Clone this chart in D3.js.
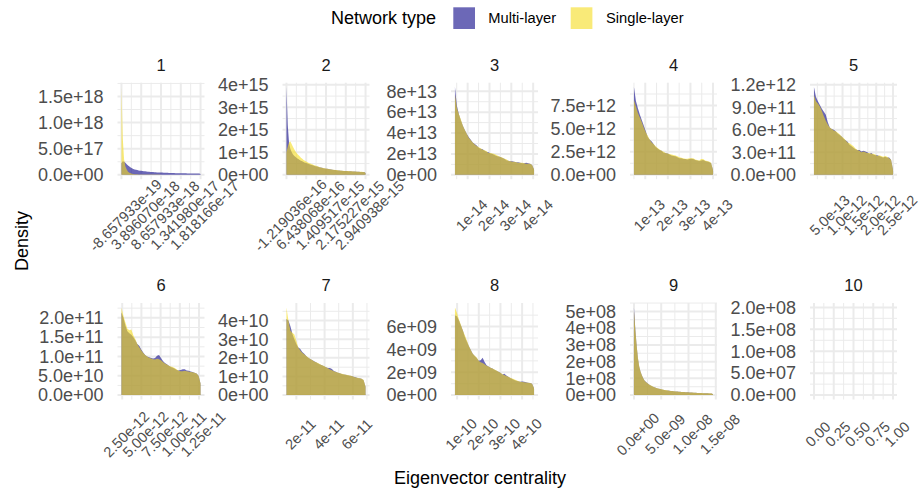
<!DOCTYPE html>
<html>
<head>
<meta charset="utf-8">
<script src="https://cdn.jsdelivr.net/npm/d3@7"></script>
<style>
body { margin: 0; background: #fff; }
text { font-family: "Liberation Sans", Arial, sans-serif; }
</style>
</head>
<body>
<svg id="chart" width="921" height="492"></svg>
<script>
// facet names
var panelNames = ["1", "2", "3", "4", "5", "6", "7", "8", "9", "10"];

// x data range of every facet (before the 5% padding)
var xDomains = [
    [-8.657933e-19, 1.818166e-17],
    [-1.219036e-16, 2.940938e-15],
    [0.42e-14, 4.04e-14],
    [0.5e-13, 4.0e-13],
    [0.15e-12, 2.5e-12],
    [2.4e-12, 1.27e-11],
    [1.3e-11, 6.9e-11],
    [0.9e-10, 4.55e-10],
    [0, 1.45e-8],
    [0, 1]
];
var xTicks = [
    [-8.657933e-19, 3.896070e-18, 8.657933e-18, 1.341980e-17, 1.818166e-17],
    [-1.219036e-16, 6.438068e-16, 1.409517e-15, 2.175227e-15, 2.940938e-15],
    [1e-14, 2e-14, 3e-14, 4e-14],
    [1e-13, 2e-13, 3e-13, 4e-13],
    [5e-13, 1e-12, 1.5e-12, 2e-12, 2.5e-12],
    [2.5e-12, 5e-12, 7.5e-12, 1e-11, 1.25e-11],
    [2e-11, 4e-11, 6e-11],
    [1e-10, 2e-10, 3e-10, 4e-10],
    [0, 5e-9, 1e-8, 1.5e-8],
    [0, 0.25, 0.5, 0.75, 1]
];
var xTickLabels = [
    ["-8.657933e-19", "3.896070e-18", "8.657933e-18", "1.341980e-17", "1.818166e-17"],
    ["-1.219036e-16", "6.438068e-16", "1.409517e-15", "2.175227e-15", "2.940938e-15"],
    ["1e-14", "2e-14", "3e-14", "4e-14"],
    ["1e-13", "2e-13", "3e-13", "4e-13"],
    ["5.0e-13", "1.0e-12", "1.5e-12", "2.0e-12", "2.5e-12"],
    ["2.50e-12", "5.00e-12", "7.50e-12", "1.00e-11", "1.25e-11"],
    ["2e-11", "4e-11", "6e-11"],
    ["1e-10", "2e-10", "3e-10", "4e-10"],
    ["0.0e+00", "5.0e-09", "1.0e-08", "1.5e-08"],
    ["0.00", "0.25", "0.50", "0.75", "1.00"]
];
var yTicks = [
    [0, 5e17, 1e18, 1.5e18],
    [0, 1e15, 2e15, 3e15, 4e15],
    [0, 2e13, 4e13, 6e13, 8e13],
    [0, 2.5e12, 5e12, 7.5e12],
    [0, 3e11, 6e11, 9e11, 1.2e12],
    [0, 5e10, 1e11, 1.5e11, 2e11],
    [0, 1e10, 2e10, 3e10, 4e10],
    [0, 2e9, 4e9, 6e9],
    [0, 1e8, 2e8, 3e8, 4e8, 5e8],
    [0, 5e7, 1e8, 1.5e8, 2e8]
];
var yTickLabels = [
    ["0.0e+00", "5.0e+17", "1.0e+18", "1.5e+18"],
    ["0e+00", "1e+15", "2e+15", "3e+15", "4e+15"],
    ["0e+00", "2e+13", "4e+13", "6e+13", "8e+13"],
    ["0.0e+00", "2.5e+12", "5.0e+12", "7.5e+12"],
    ["0.0e+00", "3.0e+11", "6.0e+11", "9.0e+11", "1.2e+12"],
    ["0.0e+00", "5.0e+10", "1.0e+11", "1.5e+11", "2.0e+11"],
    ["0e+00", "1e+10", "2e+10", "3e+10", "4e+10"],
    ["0e+00", "2e+09", "4e+09", "6e+09"],
    ["0e+00", "1e+08", "2e+08", "3e+08", "4e+08", "5e+08"],
    ["0.0e+00", "5.0e+07", "1.0e+08", "1.5e+08", "2.0e+08"]
];

// densities are written in these units, sampled evenly across xDomains
var densityUnit = [1e17, 1e14, 1e12, 1e11, 1e10, 1e9, 1e8, 1e7, 1e6, 1];
var multiLayer = [
    [2.2, 2.6, 2.5, 2.3, 2.0, 1.8, 1.6, 1.4, 1.25, 1.1, 1.0, 0.95, 0.9, 0.85, 0.8, 0.76, 0.72, 0.69, 0.66, 0.63,
     0.6, 0.58, 0.56, 0.54, 0.52, 0.5, 0.48, 0.46, 0.45, 0.44, 0.43, 0.42, 0.41, 0.4, 0.39, 0.38, 0.37, 0.36, 0.35, 0.34,
     0.33, 0.32, 0.31, 0.31, 0.3, 0.3, 0.29, 0.29, 0.28, 0.28, 0.27, 0.27, 0.26, 0.26, 0.25, 0.25, 0.24, 0.24, 0.23, 0.23, 0.15],
    [39, 22, 14, 11.5, 10, 9, 8.4, 7.9, 7.4, 7.0, 6.6, 6.3, 6.0, 5.7, 5.4, 5.2, 5.0, 4.8, 4.6, 4.4,
     4.2, 4.0, 3.85, 3.7, 3.55, 3.4, 3.25, 3.1, 2.95, 2.85, 2.75, 2.65, 2.55, 2.45, 2.35, 2.25, 2.15, 2.1, 2.05, 1.95,
     1.9, 1.85, 1.8, 1.75, 1.7, 1.65, 1.65, 1.6, 1.55, 1.55, 1.5, 1.45, 1.45, 1.4, 1.35, 1.35, 1.3, 1.3, 1.25, 1.2, 0.8],
    [84, 66, 58, 52, 47, 43, 39, 36, 33.5, 31, 29.5, 28, 26, 25, 24.5, 23, 22, 21.5, 20.5, 20,
     19, 18, 17.5, 17, 16, 15.5, 14, 13.5, 13, 13, 12.5, 12, 12, 11.5, 11, 11, 11.5, 11, 10.5, 9.5, 5],
    [95, 80, 72, 65, 59, 53, 47, 41, 38, 36, 33, 30, 28.5, 27, 26, 24, 23.5, 23, 22, 21,
     20.5, 20, 19, 18, 18, 17, 17, 16.5, 17, 17.5, 17, 16, 15.5, 15, 15.5, 16, 15, 14.5, 14, 12.5, 5],
    [117, 104, 98, 93, 88, 84, 80, 70, 63, 61, 60, 58, 55, 53, 51, 48, 46, 44, 40, 38,
     36, 34, 33, 33, 31, 32, 31, 30, 28, 29, 27, 26, 26, 25, 24, 23, 24, 23, 23, 20, 6],
    [214, 200, 180, 165, 160, 156, 150, 142, 132, 128, 118, 110, 104, 100, 98, 96, 95, 96, 102, 104,
     96, 88, 83, 80, 76, 73, 71, 68, 65, 64, 65, 67, 67, 64, 63, 61, 60, 58, 56, 50, 30],
    [409, 400, 370, 330, 300, 275, 255, 248, 232, 222, 210, 200, 194, 188, 182, 176, 170, 164, 160, 155,
     150, 146, 145, 140, 130, 125, 120, 117, 114, 111, 110, 107, 104, 102, 99, 96, 92, 90, 88, 80, 45],
    [696, 690, 655, 610, 565, 510, 470, 430, 395, 362, 342, 325, 300, 305, 328, 290, 262, 250, 240, 232,
     222, 213, 205, 196, 180, 186, 172, 160, 150, 140, 132, 125, 122, 118, 120, 116, 112, 108, 105, 100, 60],
    [524, 400, 300, 220, 170, 140, 118, 100, 88, 80, 72, 66, 61, 56, 52, 49, 46, 43, 40, 38,
     36, 34, 32, 31, 29.5, 28, 27, 26, 25, 24, 23, 22, 21.5, 21, 20, 19.5, 19, 18.5, 18, 17.5,
     17, 16.5, 16, 15.5, 15, 14.5, 14, 13.5, 13, 12.5, 12, 12, 11.5, 11, 11, 10.5, 10.5, 10, 10, 9.5, 5],
    []
];
var singleLayer = [
    [16.8, 7.0, 3.0, 1.6, 1.0, 0.6, 0.4, 0.3, 0.2, 0.15, 0.12, 0.1, 0.09, 0.08, 0.07, 0.06, 0.06, 0.05, 0.05, 0.05,
     0.04, 0.04, 0.04, 0.04, 0.04, 0.04, 0.04, 0.04, 0.04, 0.04, 0.03, 0.03, 0.03, 0.03, 0.03, 0.03, 0.03, 0.03, 0.03, 0.03,
     0.03, 0.03, 0.03, 0.03, 0.03, 0.03, 0.03, 0.03, 0.03, 0.03, 0.02, 0.02, 0.02, 0.02, 0.02, 0.02, 0.02, 0.02, 0.02, 0.02, 0.01],
    [10, 12.5, 14.5, 14.8, 13.6, 12.4, 11.3, 10.3, 9.5, 8.8, 8.2, 7.6, 7.1, 6.6, 6.2, 5.9, 5.6, 5.3, 5.0, 4.8,
     4.6, 4.3, 4.1, 3.9, 3.7, 3.5, 3.3, 3.1, 3.0, 2.9, 2.8, 2.7, 2.6, 2.5, 2.4, 2.3, 2.2, 2.15, 2.1, 2.0,
     1.95, 1.9, 1.85, 1.8, 1.75, 1.7, 1.7, 1.65, 1.6, 1.6, 1.55, 1.5, 1.5, 1.45, 1.4, 1.4, 1.35, 1.35, 1.3, 1.25, 0.8],
    [77, 64, 58, 53, 47, 43, 39, 35.5, 33, 31, 29, 27.5, 26.5, 25.5, 24, 23.5, 22.5, 21, 21, 20.5,
     20, 19, 18, 17, 16.5, 15.5, 15, 13.5, 13, 12.5, 12.5, 12, 11.5, 11.5, 11.5, 11, 10.5, 10.5, 10.5, 9.5, 5],
    [81, 74, 67, 62, 57, 51, 46, 42, 38, 35, 33, 31, 29, 27.5, 26, 25, 23.5, 23, 22.5, 22,
     21.5, 21, 20, 19, 18.5, 18, 17.5, 17.5, 18, 18, 18, 16.5, 16, 15.5, 17, 17, 15.5, 15, 14.5, 13, 5],
    [106, 98, 95, 91, 85, 78, 72, 67, 63, 61, 59, 58, 56, 54, 51, 49, 46, 43, 42, 40,
     38, 35, 33, 32, 30, 31, 30, 29, 29, 28, 28, 27, 25, 26, 25, 24, 25, 24, 22, 20, 6],
    [227, 205, 188, 172, 168, 170, 155, 145, 132, 124, 116, 109, 104, 100, 97, 95, 93, 92, 94, 93,
     90, 86, 82, 79, 76, 74, 73, 70, 66, 63, 62, 62, 63, 62, 61, 60, 59, 58, 56, 50, 30],
    [471, 400, 345, 335, 325, 290, 255, 240, 228, 220, 210, 202, 194, 188, 180, 176, 172, 166, 160, 156,
     150, 144, 138, 134, 128, 124, 121, 118, 115, 112, 110, 108, 105, 102, 99, 95, 93, 91, 88, 82, 45],
    [768, 720, 665, 615, 565, 525, 480, 432, 395, 362, 345, 330, 300, 288, 282, 270, 258, 250, 240, 232,
     224, 215, 205, 196, 183, 175, 168, 160, 152, 145, 138, 130, 124, 118, 115, 113, 110, 108, 105, 100, 60],
    [505, 395, 300, 225, 172, 140, 118, 100, 88, 79, 72, 66, 61, 57, 53, 49, 46, 43, 41, 38,
     36, 34.5, 33, 31, 30, 28.5, 27, 26, 25, 24, 23.5, 22.5, 22, 21, 20.5, 19.5, 19, 18.5, 18, 17.5,
     17, 17, 16, 15.5, 15, 15, 14.5, 14, 13, 12.5, 12.5, 12, 12, 11.5, 11, 11, 11, 11, 10.5, 10, 5],
    []
];
var emptyYMax = 2e8;
var seriesNames = ["Multi-layer", "Single-layer"];

// layout
var colLeft = [117.5, 282.5, 451, 630, 810];
var rowTop = [82.7, 303];
var panelW = 87, panelH = 96.5;
var labelDrop = [36, 34.7];
var gridColor = "#EBEBEB";
var fills = ["rgb(10,3,135)", "rgb(245,220,30)"];
var fillAlpha = 0.6;

var svg = d3.select("#chart");
svg.append("rect").attr("width", 921).attr("height", 492).attr("fill", "#fff");

function minorBreaks(major, dom) {
    var out = [];
    for (var i = 0; i < major.length - 1; i++) out.push((major[i] + major[i + 1]) / 2);
    if (major.length > 1) {
        var step = major[1] - major[0];
        out.push(major[0] - step / 2, major[major.length - 1] + step / 2);
    }
    return out.filter(function (v) { return v >= dom[0] && v <= dom[1]; });
}

panelNames.forEach(function (name, p) {
    var col = p % 5, row = Math.floor(p / 5);
    var left = colLeft[col], top = rowTop[row];
    var xd = xDomains[p], xr = xd[1] - xd[0];
    var x = d3.scaleLinear().domain([xd[0] - 0.05 * xr, xd[1] + 0.05 * xr]).range([left, left + panelW]);
    var series = [multiLayer[p], singleLayer[p]];
    var ymax = d3.max(series, function (s) { return d3.max(s); });
    ymax = ymax ? ymax * densityUnit[p] : emptyYMax;
    var y = d3.scaleLinear().domain([-0.05 * ymax, 1.05 * ymax]).range([top + panelH, top]);

    var g = svg.append("g");

    // grid: minor first, then major
    var grid = g.append("g");
    minorBreaks(xTicks[p], x.domain()).forEach(function (v) {
        grid.append("line").attr("x1", x(v)).attr("x2", x(v)).attr("y1", top).attr("y2", top + panelH)
            .attr("stroke", gridColor).attr("stroke-width", 1);
    });
    minorBreaks(yTicks[p], y.domain()).forEach(function (v) {
        grid.append("line").attr("x1", left).attr("x2", left + panelW).attr("y1", y(v)).attr("y2", y(v))
            .attr("stroke", gridColor).attr("stroke-width", 1);
    });
    xTicks[p].forEach(function (v) {
        grid.append("line").attr("x1", x(v)).attr("x2", x(v)).attr("y1", top).attr("y2", top + panelH)
            .attr("stroke", gridColor).attr("stroke-width", 2);
    });
    yTicks[p].forEach(function (v) {
        grid.append("line").attr("x1", left).attr("x2", left + panelW).attr("y1", y(v)).attr("y2", y(v))
            .attr("stroke", gridColor).attr("stroke-width", 2);
    });

    // densities, multi-layer under single-layer
    series.forEach(function (vals, s) {
        if (!vals.length) return;
        var n = vals.length;
        var area = d3.area()
            .x(function (d, i) { return x(xd[0] + i * xr / (n - 1)); })
            .y0(y(0))
            .y1(function (d) { return y(d * densityUnit[p]); });
        g.append("path").datum(vals).attr("d", area)
            .attr("fill", fills[s]).attr("fill-opacity", fillAlpha);
    });

    // y axis
    var ya = g.append("g").attr("transform", "translate(" + left + ",0)")
        .call(d3.axisLeft(y).tickValues(yTicks[p])
            .tickFormat(function (d, i) { return yTickLabels[p][i]; })
            .tickSize(0).tickPadding(14));
    ya.select(".domain").remove();
    ya.selectAll("text").attr("font-size", 18).attr("fill", "#4D4D4D")
        .attr("font-family", "Liberation Sans, Arial, sans-serif");

    // x axis, labels at 45 degrees
    var drop = labelDrop[row];
    var xa = g.append("g").attr("transform", "translate(0," + (top + panelH) + ")")
        .call(d3.axisBottom(x).tickValues(xTicks[p])
            .tickFormat(function (d, i) { return xTickLabels[p][i]; })
            .tickSize(0));
    xa.select(".domain").remove();
    xa.selectAll("text")
        .attr("x", 3.5).attr("y", drop).attr("dy", "0.35em")
        .attr("text-anchor", "middle")
        .attr("transform", "rotate(-45,3.5," + drop + ")")
        .attr("font-size", 14.6).attr("fill", "#4D4D4D")
        .attr("font-family", "Liberation Sans, Arial, sans-serif");

    // strip title
    g.append("text").attr("x", left + panelW / 2).attr("y", top - 17.5).attr("dy", "0.35em")
        .attr("text-anchor", "middle").attr("font-size", 16.5).attr("fill", "#1A1A1A").text(name);
});

// axis titles
svg.append("text").attr("x", 480).attr("y", 478).attr("dy", "0.35em").attr("text-anchor", "middle")
    .attr("font-size", 18).attr("fill", "#000").text("Eigenvector centrality");
svg.append("text").attr("transform", "translate(22,241) rotate(-90)").attr("dy", "0.35em")
    .attr("text-anchor", "middle").attr("font-size", 18).attr("fill", "#000").text("Density");

// legend
var legend = svg.append("g");
legend.append("text").attr("x", 331).attr("y", 18).attr("dy", "0.35em")
    .attr("font-size", 18).attr("fill", "#000").text("Network type");
var keyX = [453.3, 570.7], labelX = [488.3, 606];
seriesNames.forEach(function (nm, s) {
    legend.append("rect").attr("x", keyX[s]).attr("y", 7.3).attr("width", 21.7).attr("height", 21.7)
        .attr("fill", fills[s]).attr("fill-opacity", fillAlpha);
    legend.append("text").attr("x", labelX[s]).attr("y", 18.2).attr("dy", "0.35em")
        .attr("font-size", 14.7).attr("fill", "#000").text(nm);
});
</script>
</body>
</html>
